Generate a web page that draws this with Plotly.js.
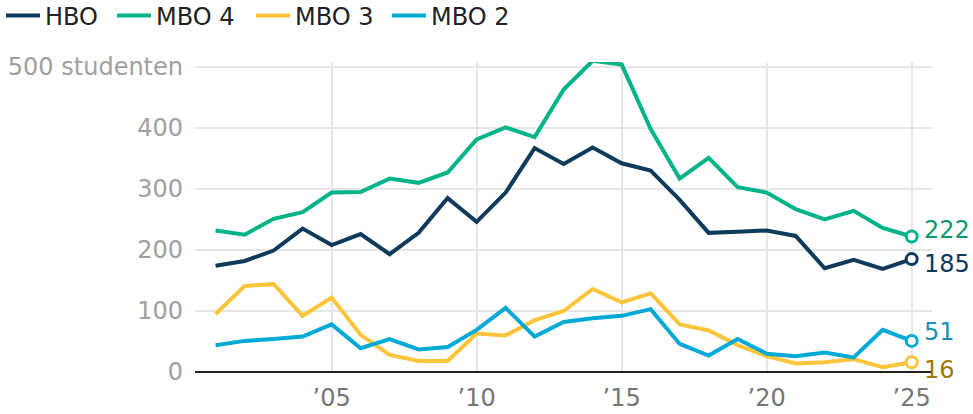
<!DOCTYPE html>
<html>
<head>
<meta charset="utf-8">
<script src="https://cdn.plot.ly/plotly-3.0.1.min.js"></script>
<style>html,body{margin:0;padding:0;background:#fff;}#chart{width:973px;height:414px;}</style>
</head>
<body>
<div id="chart"></div>
<script>
const years = [2001,2002,2003,2004,2005,2006,2007,2008,2009,2010,2011,2012,2013,2014,2015,2016,2017,2018,2019,2020,2021,2022,2023,2024,2025];
const hbo  = [174,182,199,235,208,226,193,228,285,246,294,367,341,368,342,330,282,228,230,232,223,170,184,169,185];
const mbo4 = [232,225,251,262,294,295,317,310,327,381,401,385,463,510,504,398,317,351,303,294,267,250,264,236,222];
const mbo3 = [95,141,144,92,122,61,28,18,18,63,60,85,100,136,114,129,78,68,44,26,14,16,21,8,16];
const mbo2 = [44,51,54,58,78,39,54,37,41,69,105,58,82,88,92,103,46,27,54,30,26,32,24,69,51];
const seriesNames = ['HBO','MBO 4','MBO 3','MBO 2'];
const seriesData = [hbo, mbo4, mbo3, mbo2];
const lineColors = ['#0e3a5c','#00b388','#fcc43a','#00a9d6'];
const labelColors = ['#0e3a5c','#0a9a70','#a07800','#1a90b8'];
const labelShift = [-5, 7, -8, 9];
const legendX = [1, 112, 251, 387];
const yTickVals = [0,100,200,300,400,500];
const yTickText = ['0','100','200','300','400','500 studenten'];
const xTickVals = [2005,2010,2015,2020,2025];
const xTickText = ['’05','’10','’15','’20','’25'];

const FS = 24;
const traces = [];
const legendIds = ['legend','legend2','legend3','legend4'];
seriesNames.forEach((n,i)=>{
  traces.push({x: years, y: seriesData[i], name: n, type:'scatter', mode:'lines', legend: legendIds[i],
    line:{color: lineColors[i], width:4}, hoverinfo:'skip'});
});
seriesNames.forEach((n,i)=>{
  const last = years.length-1;
  traces.push({x:[years[last]], y:[seriesData[i][last]], type:'scatter', mode:'markers', showlegend:false,
    marker:{size:11, color:'#fff', line:{color: lineColors[i], width:3}}, hoverinfo:'skip'});
});
const annotations = seriesNames.map((n,i)=>({
  x: years[years.length-1], y: seriesData[i][years.length-1], xref:'x', yref:'y',
  text: String(seriesData[i][years.length-1]), showarrow:false, xanchor:'left', xshift:10, yshift:labelShift[i],
  font:{family:'DejaVu Sans', size:FS, color: labelColors[i]}
}));
const layout = {
  width:973, height:414,
  margin:{l:195, r:41, t:62, b:42},
  paper_bgcolor:'#fff', plot_bgcolor:'#fff',
  font:{family:'DejaVu Sans', size:FS, color:'#222'},
  showlegend:true,
  xaxis:{range:[2000.29,2025.7], tickvals:xTickVals, ticktext:xTickText, showgrid:true, gridcolor:'#e6e6e6', gridwidth:2,
    zeroline:false, showline:false, ticks:'', ticklabelstandoff:9, tickfont:{size:FS, color:'#757575'}, fixedrange:true},
  yaxis:{range:[0,508], tickvals:yTickVals, ticktext:yTickText, showgrid:true, gridcolor:'#e6e6e6', gridwidth:2,
    zeroline:true, zerolinecolor:'#222', zerolinewidth:2, showline:false, ticks:'', ticklabelstandoff:11,
    tickfont:{size:FS, color:'#a0a0a0'}, fixedrange:true},
  annotations: annotations
};
legendIds.forEach((id,i)=>{
  layout[id] = {orientation:'h', xref:'container', yref:'container', x: legendX[i]/973, xanchor:'left',
    y: 1 - 16/414, yanchor:'middle', font:{size:FS, color:'#222'}, bgcolor:'rgba(0,0,0,0)', borderwidth:0, itemwidth:34};
});
Plotly.newPlot('chart', traces, layout, {displayModeBar:false, staticPlot:true});
</script>
</body>
</html>
